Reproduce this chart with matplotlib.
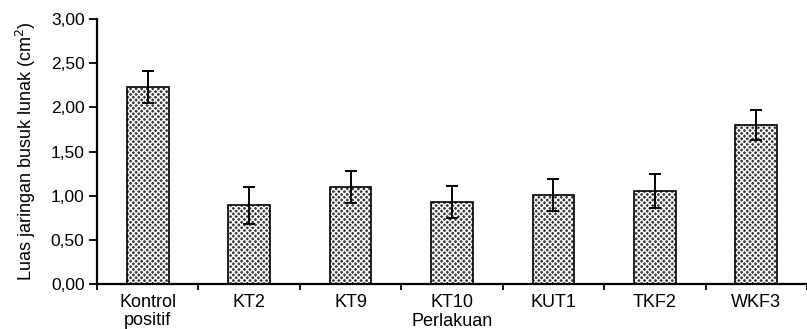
import matplotlib
matplotlib.use("Agg")
import matplotlib.pyplot as plt
import numpy as np

categories = ["Kontrol\npositif", "KT2", "KT9", "KT10", "KUT1", "TKF2", "WKF3"]
values = [2.23, 0.89, 1.10, 0.93, 1.01, 1.05, 1.80]
errors = [0.18, 0.21, 0.18, 0.18, 0.18, 0.19, 0.17]
yticks = [0.0, 0.5, 1.0, 1.5, 2.0, 2.5, 3.0]
ytick_labels = ["0,00", "0,50", "1,00", "1,50", "2,00", "2,50", "3,00"]

plt.rcParams['font.family'] = ['Liberation Sans', 'DejaVu Sans']
plt.rcParams['hatch.linewidth'] = 1.0

fs = 12.5
fig = plt.figure(figsize=(8.07, 3.29), dpi=100)
ax = fig.add_axes([97/807, 1-284/329, 1-97/807, (284-19)/329])

x = np.arange(len(categories))
w = 0.41
ax.bar(x, values, width=w, color='#3c3c3c', edgecolor='white', hatch='xxxxxx', linewidth=0, zorder=2)
ax.bar(x, values, width=w, fill=False, edgecolor='black', linewidth=1.2, zorder=3)
ax.errorbar(x, values, yerr=errors, fmt='none', ecolor='black', elinewidth=1.4,
            capsize=4, capthick=1.4, zorder=4)

ax.set_xlim(-0.5, len(categories) - 0.5)
ax.set_ylim(0, 3.0)
ax.set_yticks(yticks)
ax.set_yticklabels(ytick_labels, fontsize=fs)
ax.set_xticks(x)
ax.set_xticklabels(categories, fontsize=13, linespacing=1.1)
ax.tick_params(axis='x', length=0, pad=7)
ax.set_xticks(np.arange(-0.5, len(categories) - 0.4, 1.0), minor=True)
ax.tick_params(axis='x', which='minor', length=4.5, width=1.3, direction='out')
ax.tick_params(axis='y', length=5.5, width=1.3, direction='out', pad=3.5)

for s in ['top', 'right']:
    ax.spines[s].set_visible(False)
for s in ['left', 'bottom']:
    ax.spines[s].set_linewidth(1.6)

ax.set_xlabel("Perlakuan", fontsize=13)
ax.xaxis.set_label_coords(0.5, -0.11)
ax.set_ylabel("Luas jaringan busuk lunak (cm$^2$)", fontsize=13, labelpad=9)

fig.savefig("out.png", dpi=100)
